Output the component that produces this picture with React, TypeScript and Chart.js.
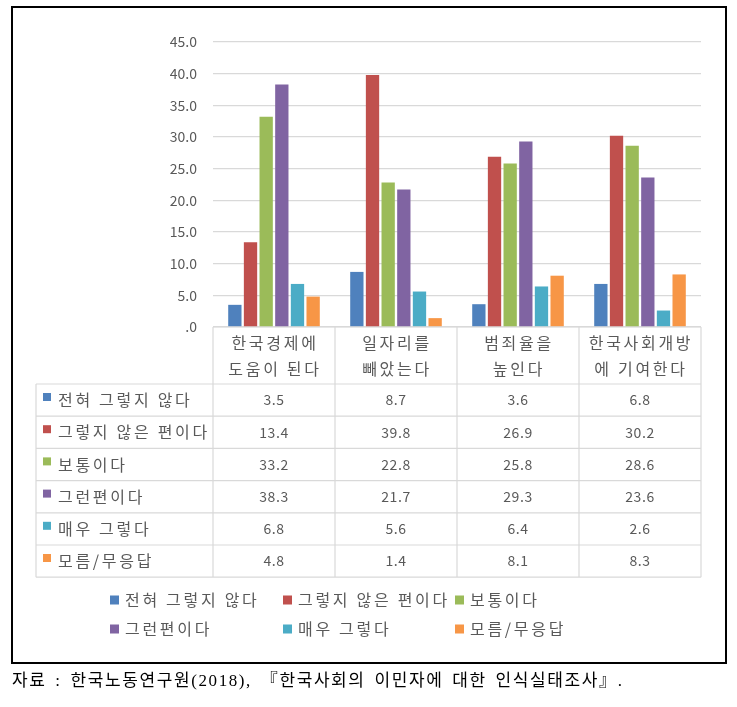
import React, { useEffect, useRef } from "react";
import { Chart, registerables } from "chart.js";

Chart.register(...registerables);

const categories: string[][] = [
  ["한국경제에", "도움이 된다"],
  ["일자리를", "빼았는다"],
  ["범죄율을", "높인다"],
  ["한국사회개방", "에 기여한다"],
];

const seriesNames = [
  "전혀 그렇지 않다",
  "그렇지 않은 편이다",
  "보통이다",
  "그런편이다",
  "매우 그렇다",
  "모름/무응답",
];

const notAtAll = [3.5, 8.7, 3.6, 6.8];
const ratherNot = [13.4, 39.8, 26.9, 30.2];
const neutral = [33.2, 22.8, 25.8, 28.6];
const rather = [38.3, 21.7, 29.3, 23.6];
const veryMuch = [6.8, 5.6, 6.4, 2.6];
const unknown = [4.8, 1.4, 8.1, 8.3];

const seriesValues = [notAtAll, ratherNot, neutral, rather, veryMuch, unknown];
const colors = ["#4F81BD", "#C0504D", "#9BBB59", "#8064A2", "#4BACC6", "#F79646"];

const yTicks = [0, 5, 10, 15, 20, 25, 30, 35, 40, 45];

const FONT = "'Noto Sans CJK KR', 'Noto Sans', sans-serif";
const TEXT = "#595959";
const LINE = "#d9d9d9";
const KO_SPACING = "2.7px";

const tablePlugin = {
  id: "dataTableAndLegend",
  afterDraw(chart: any) {
    const ctx: CanvasRenderingContext2D = chart.ctx;
    const { left, right, bottom } = chart.chartArea;
    const xs = chart.scales.x;
    const n = categories.length;
    const w = (right - left) / n;
    const labelLeft = 36;
    const headerBottom = 384;
    const rowH = 32.2;
    const tableBottom = headerBottom + rowH * seriesNames.length;

    ctx.save();
    ctx.strokeStyle = LINE;
    ctx.lineWidth = 1.2;
    ctx.beginPath();
    ctx.moveTo(left, bottom);
    ctx.lineTo(right, bottom);
    for (let i = 0; i <= n; i++) {
      const x = left + i * w;
      ctx.moveTo(x, bottom);
      ctx.lineTo(x, tableBottom);
    }
    ctx.moveTo(labelLeft, headerBottom);
    ctx.lineTo(labelLeft, tableBottom);
    for (let r = 0; r <= seriesNames.length; r++) {
      const y = headerBottom + r * rowH;
      ctx.moveTo(labelLeft, y);
      ctx.lineTo(right, y);
    }
    ctx.stroke();

    // header labels
    ctx.fillStyle = TEXT;
    ctx.textAlign = "center";
    ctx.textBaseline = "middle";
    ctx.font = `16px ${FONT}`;
    (ctx as any).letterSpacing = KO_SPACING;
    categories.forEach((lines, i) => {
      const cx = xs.getPixelForValue(i) + 1;
      ctx.fillText(lines[0], cx, bottom + 16);
      ctx.fillText(lines[1], cx, bottom + 42);
    });

    // rows
    seriesNames.forEach((name, r) => {
      const top = headerBottom + r * rowH;
      const cy = top + rowH / 2;
      ctx.fillStyle = colors[r];
      ctx.fillRect(43, top + 9, 8, 8);
      ctx.fillStyle = TEXT;
      ctx.textAlign = "left";
      ctx.font = `16px ${FONT}`;
      (ctx as any).letterSpacing = KO_SPACING;
      ctx.fillText(name, 58, cy);
      ctx.textAlign = "center";
      ctx.font = `14px ${FONT}`;
      (ctx as any).letterSpacing = "0.6px";
      seriesValues[r].forEach((v, i) => {
        ctx.fillText(v.toFixed(1), xs.getPixelForValue(i), cy);
      });
    });

    // bottom legend
    const colX = [110, 283, 455];
    const rowY = [600, 629];
    ctx.font = `16px ${FONT}`;
    (ctx as any).letterSpacing = KO_SPACING;
    ctx.textAlign = "left";
    seriesNames.forEach((name, k) => {
      const x = colX[k % 3];
      const y = rowY[Math.floor(k / 3)];
      ctx.fillStyle = colors[k];
      ctx.fillRect(x, y - 4.5, 9, 9);
      ctx.fillStyle = TEXT;
      ctx.fillText(name, x + 15, y);
    });
    ctx.restore();
  },
};

export default function App() {
  const ref = useRef<HTMLCanvasElement>(null);

  useEffect(() => {
    if (!ref.current) return;
    const chart = new Chart(ref.current, {
      type: "bar",
      data: {
        labels: categories.map((c) => c.join(" ")),
        datasets: seriesNames.map((name, k) => ({
          label: name,
          data: seriesValues[k],
          backgroundColor: colors[k],
          categoryPercentage: 0.77,
          barPercentage: 0.85,
        })),
      },
      options: {
        animation: false,
        responsive: false,
        devicePixelRatio: 1,
        layout: { padding: { left: 0, top: 42, right: 36, bottom: 380 } },
        plugins: {
          legend: { display: false },
          tooltip: { enabled: false },
        },
        scales: {
          x: { display: false },
          y: {
            min: 0,
            max: 45,
            afterFit: (scale: any) => {
              scale.width = 213;
            },
            afterBuildTicks: (scale: any) => {
              scale.ticks = yTicks.map((v) => ({ value: v }));
            },
            border: { display: false },
            grid: { color: LINE, lineWidth: 1.2, drawTicks: false },
            ticks: {
              padding: 16,
              color: TEXT,
              font: { family: FONT, size: 14 },
              callback: (v: any) => (Number(v) === 0 ? ".0" : Number(v).toFixed(1)),
            },
          },
        },
      },
      plugins: [tablePlugin],
    });
    return () => chart.destroy();
  }, []);

  return (
    <div style={{ position: "absolute", left: 0, top: 0, width: 737, height: 707 }}>
      <div
        style={{
          position: "absolute",
          left: 11,
          top: 6,
          width: 716,
          height: 658,
          border: "2px solid #000",
          boxSizing: "border-box",
        }}
      />
      <canvas
        ref={ref}
        width={737}
        height={707}
        style={{ position: "absolute", left: 0, top: 0, width: 737, height: 707 }}
      />
      <div
        style={{
          position: "absolute",
          left: 12,
          top: 669,
          fontSize: 17,
          lineHeight: "24px",
          fontFamily: "'Liberation Serif', 'Noto Sans CJK KR', serif",
          color: "#000",
          whiteSpace: "pre",
          letterSpacing: 1.6,
          wordSpacing: 3,
        }}
      >
        자료 : 한국노동연구원(2018), 『한국사회의 이민자에 대한 인식실태조사』.
      </div>
    </div>
  );
}
